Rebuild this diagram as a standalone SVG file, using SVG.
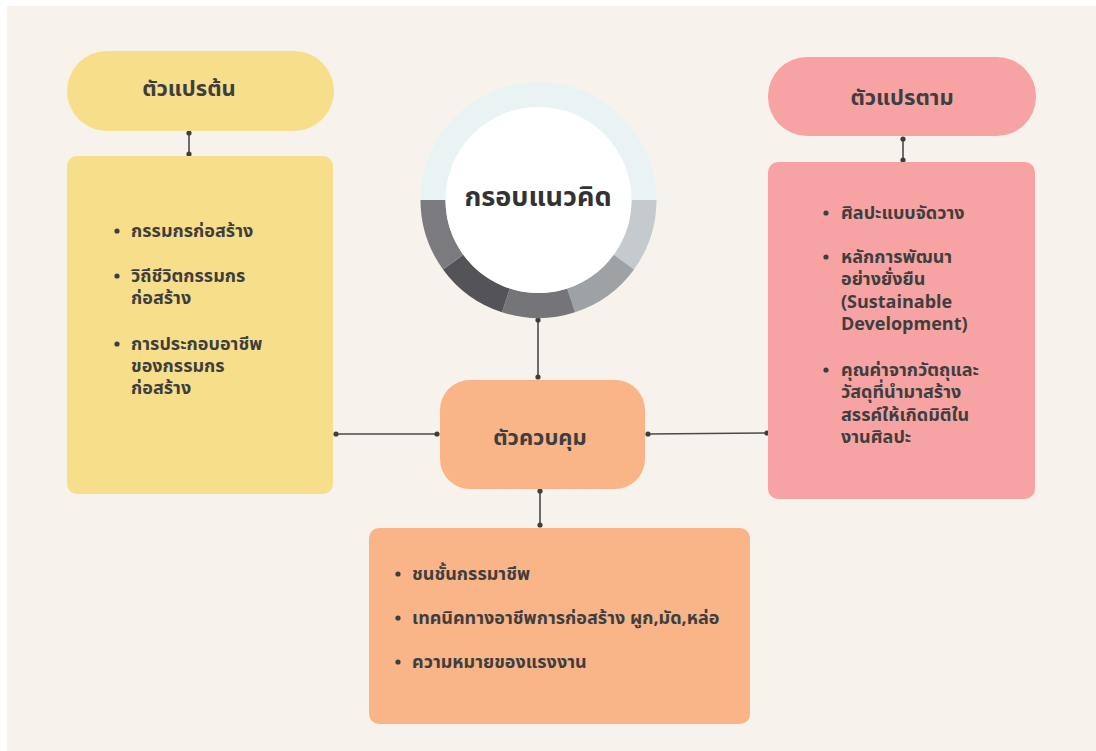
<svg xmlns="http://www.w3.org/2000/svg" width="1096" height="751" viewBox="0 0 1096 751">
<style>
text{font-family:"Noto Sans Thai","Noto Sans","DejaVu Sans",sans-serif;font-weight:700;fill:#3e3e3e}
.title{font-size:22px;text-anchor:middle}
.item{font-size:18px}
.yel{fill:#F7DE8A}
.pink{fill:#F7A3A3}
.org{fill:#F9B488}
.conn{stroke:#4a4a4a;stroke-width:1.6;fill:none;marker-start:url(#dot);marker-end:url(#dot)}
</style>
<defs>
<marker id="dot" viewBox="0 0 6 6" refX="3" refY="3" markerWidth="6" markerHeight="6" markerUnits="userSpaceOnUse">
<circle cx="3" cy="3" r="2.6" fill="#3e3e3e"/>
</marker>
</defs>
<rect x="0" y="0" width="1096" height="751" fill="#ffffff"/>
<rect x="7" y="6" width="1089" height="745" fill="#F7F3EC"/>

<g id="connectors">
<line class="conn" x1="189" y1="133" x2="189" y2="154"/>
<line class="conn" x1="903" y1="139" x2="903" y2="160"/>
<line class="conn" x1="538" y1="320" x2="538" y2="377"/>
<line class="conn" x1="336" y1="434" x2="437" y2="434"/>
<line class="conn" x1="648" y1="434" x2="767" y2="433"/>
<line class="conn" x1="540" y1="491" x2="540" y2="525"/>
</g>

<g id="independent-title">
<rect class="yel" x="67" y="51" width="267" height="80" rx="40"/>
<text class="title" x="189" y="96">ตัวแปรต้น</text>
</g>

<g id="independent-list">
<rect class="yel" x="67" y="156" width="266" height="338" rx="10"/>
<circle cx="117" cy="231" r="2.6" fill="#3e3e3e"/>
<circle cx="117" cy="276" r="2.6" fill="#3e3e3e"/>
<circle cx="117" cy="344" r="2.6" fill="#3e3e3e"/>
<text class="item" x="131" y="237">กรรมกรก่อสร้าง</text>
<text class="item" x="131" y="282">วิถีชีวิตกรรมกร</text>
<text class="item" x="131" y="304">ก่อสร้าง</text>
<text class="item" x="131" y="350">การประกอบอาชีพ</text>
<text class="item" x="131" y="372">ของกรรมกร</text>
<text class="item" x="131" y="394">ก่อสร้าง</text>
</g>

<g id="framework">
<path d="M420.5,200 A118,118 0 0 1 656.5,200 L631.5,200 A93,93 0 0 0 445.5,200 Z" fill="#EAF3F3"/>
<path d="M656.5,200 A118,118 0 0 1 634,269.4 L613.7,254.7 A93,93 0 0 0 631.5,200 Z" fill="#C4CACD"/>
<path d="M634,269.4 A118,118 0 0 1 575,312.2 L567.2,288.4 A93,93 0 0 0 613.7,254.7 Z" fill="#9EA2A5"/>
<path d="M575,312.2 A118,118 0 0 1 502,312.2 L509.8,288.4 A93,93 0 0 0 567.2,288.4 Z" fill="#747479"/>
<path d="M502,312.2 A118,118 0 0 1 443,269.4 L463.3,254.7 A93,93 0 0 0 509.8,288.4 Z" fill="#545358"/>
<path d="M443,269.4 A118,118 0 0 1 420.5,200 L445.5,200 A93,93 0 0 0 463.3,254.7 Z" fill="#7B7A7F"/>
<circle cx="538.5" cy="200" r="93" fill="#ffffff"/>
<text x="538" y="206" font-size="27" text-anchor="middle" style="fill:#333">กรอบแนวคิด</text>
</g>

<g id="control-title">
<rect class="org" x="440" y="380" width="205" height="109" rx="30"/>
<text class="title" x="540" y="445">ตัวควบคุม</text>
</g>

<g id="control-list">
<rect class="org" x="369" y="528" width="381" height="196" rx="10"/>
<circle cx="398" cy="574" r="2.6" fill="#3e3e3e"/>
<circle cx="398" cy="618" r="2.6" fill="#3e3e3e"/>
<circle cx="398" cy="662" r="2.6" fill="#3e3e3e"/>
<text class="item" x="412" y="580">ชนชั้นกรรมาชีพ</text>
<text class="item" x="412" y="624">เทคนิคทางอาชีพการก่อสร้าง ผูก,มัด,หล่อ</text>
<text class="item" x="412" y="668">ความหมายของแรงงาน</text>
</g>

<g id="dependent-title">
<rect class="pink" x="768" y="57" width="268" height="79" rx="39"/>
<text class="title" x="902" y="105">ตัวแปรตาม</text>
</g>

<g id="dependent-list">
<rect class="pink" x="768" y="162" width="267" height="337" rx="10"/>
<circle cx="826" cy="213" r="2.6" fill="#3e3e3e"/>
<circle cx="826" cy="257" r="2.6" fill="#3e3e3e"/>
<circle cx="826" cy="370" r="2.6" fill="#3e3e3e"/>
<text class="item" x="841" y="219">ศิลปะแบบจัดวาง</text>
<text class="item" x="841" y="263">หลักการพัฒนา</text>
<text class="item" x="841" y="285">อย่างยั่งยืน</text>
<text class="item" x="841" y="308">(Sustainable</text>
<text class="item" x="841" y="330">Development)</text>
<text class="item" x="841" y="376">คุณค่าจากวัตถุและ</text>
<text class="item" x="841" y="398">วัสดุที่นำมาสร้าง</text>
<text class="item" x="841" y="421">สรรค์ให้เกิดมิติใน</text>
<text class="item" x="841" y="443">งานศิลปะ</text>
</g>
</svg>
